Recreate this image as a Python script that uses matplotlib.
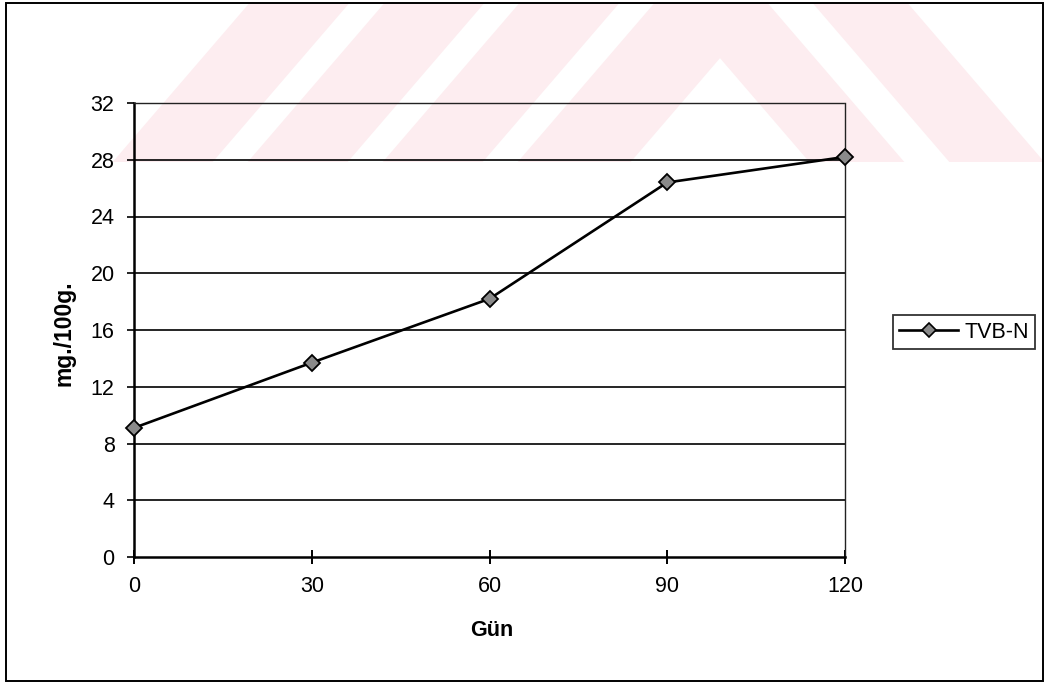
import matplotlib
matplotlib.use("Agg")
import matplotlib.pyplot as plt
from matplotlib.patches import Polygon, Rectangle
from matplotlib.lines import Line2D

plt.rcParams['font.family'] = ['Liberation Sans', 'DejaVu Sans']

# TVB-N over storage time
days = [0, 30, 60, 90, 120]
tvbn = [9.1, 13.7, 18.2, 26.4, 28.2]
series_name = "TVB-N"
x_ticks = [0, 30, 60, 90, 120]
y_ticks = [0, 4, 8, 12, 16, 20, 24, 28, 32]
x_title = "Gün"
y_title = "mg./100g."

W, H = 1048, 684
fig = plt.figure(figsize=(W / 100, H / 100), dpi=100)
fig.patch.set_facecolor('white')


def px(x, y):
    # pixel position (origin top-left) -> figure fraction
    return (x / W, 1 - y / H)


# light pink stripes behind the top of the page
pink = '#fdedf0'
k = 0.86
y0, y1 = 3, 162


def slash_band(a, b):
    return [px(a - k * y1, y1), px(b - k * y1, y1), px(b - k * y0, y0), px(a - k * y0, y0)]


def back_band(a, b):
    return [px(a + k * y0, y0), px(b + k * y0, y0), px(b + k * y1, y1), px(a + k * y1, y1)]


bands = [slash_band(252, 352), slash_band(387, 487), slash_band(522, 622), back_band(810, 905)]
# chevron
apex_x = (770 + 670) / 2
apex_y = (770 - 670) / (2 * k)
bands.append([px(657 - k * y1, y1), px(657 - k * y0, y0), px(765 + k * y0, y0),
              px(765 + k * y1, y1), px(670 + k * y1, y1), px(apex_x, apex_y),
              px(770 - k * y1, y1)])
for b in bands:
    fig.patches.append(Polygon(b, closed=True, transform=fig.transFigure,
                               facecolor=pink, edgecolor='none', zorder=-2))

# outer chart border
fig.patches.append(Rectangle(px(6, 681), 1037 / W, 678 / H, transform=fig.transFigure,
                             facecolor='none', edgecolor='black', linewidth=1.4, zorder=-1))

ax = fig.add_axes([134 / W, 1 - 557 / H, 711 / W, 454 / H])
ax.set_facecolor('none')
ax.set_zorder(2)

for v in y_ticks[1:-1]:
    ax.axhline(v, color='black', linewidth=1.2, zorder=1)

ax.plot(days, tvbn, color='black', linewidth=1.9, marker='D', markersize=8,
        markerfacecolor='#8a8a8a', markeredgecolor='black', markeredgewidth=1.3,
        label=series_name, zorder=3, clip_on=False)

ax.set_xlim(0, 120)
ax.set_ylim(0, 32)
ax.set_xticks(x_ticks)
ax.set_yticks(y_ticks)
ax.tick_params(axis='x', direction='inout', length=10, width=1.4, pad=9, labelsize=15.5)
ax.tick_params(axis='y', direction='out', length=5, width=1.2, pad=9, labelsize=15.5)

ax.spines['left'].set_linewidth(1.8)
ax.spines['bottom'].set_linewidth(1.8)
for s in ('top', 'right'):
    ax.spines[s].set_linewidth(1.0)
    ax.spines[s].set_linestyle((0, (3, 1)))
    ax.spines[s].set_color('#222222')

fig.text(*px(64, 333), y_title, rotation=90, ha='center', va='center',
         fontsize=16.5, fontweight='bold')
fig.text(*px(492, 630), x_title, ha='center', va='center',
         fontsize=15.5, fontweight='bold')

handle = Line2D([], [], color='black', linewidth=1.9, marker='D', markersize=7,
                markerfacecolor='#8a8a8a', markeredgecolor='black', markeredgewidth=1.2)
leg = fig.legend([handle], [series_name], loc='center left',
                 bbox_to_anchor=px(893, 332), fontsize=15.5, frameon=True,
                 fancybox=False, handlelength=2.7, handletextpad=0.3,
                 borderpad=0.3, borderaxespad=0)
leg.get_frame().set_edgecolor('black')
leg.get_frame().set_linewidth(1.3)

fig.savefig('out.png', dpi=100)
